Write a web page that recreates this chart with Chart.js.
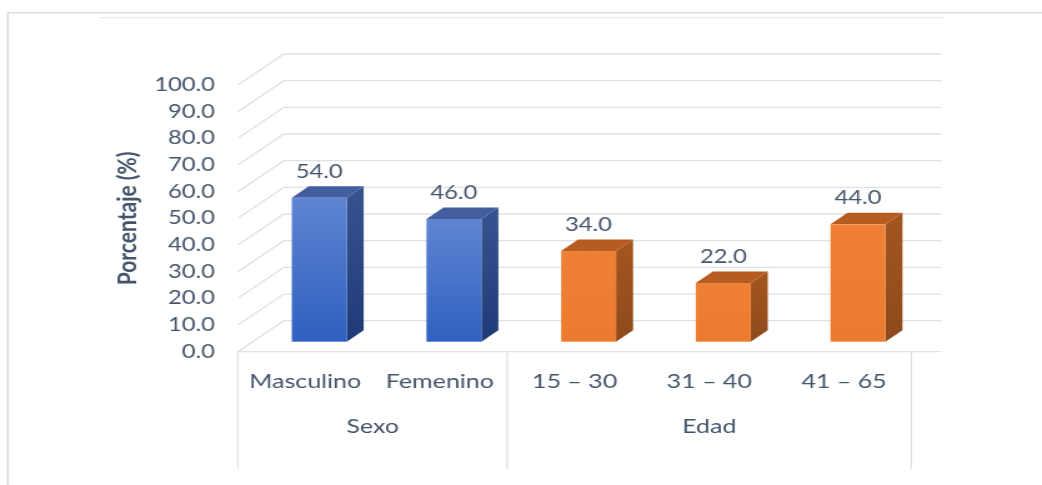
<!DOCTYPE html>
<html>
<head>
<meta charset="utf-8">
<script src="https://cdn.jsdelivr.net/npm/chart.js@4"></script>
<style>
  html, body { margin: 0; padding: 0; background: #ffffff; }
  /* drawn narrow, shown wide: the chart is stretched horizontally */
  #porcentaje-chart { display: block; width: 1042px !important; height: 485px !important; }
</style>
</head>
<body>
<canvas id="porcentaje-chart" width="834" height="485" style="width:1042px;height:485px"></canvas>
<script>
const categories = ["Masculino", "Femenino", "15 – 30", "31 – 40", "41 – 65"];
const percentages = [54.0, 46.0, 34.0, 22.0, 44.0];
const groups = ["Sexo", "Edad"];
const groupSizes = [2, 3];
const yTickLabels = ["0.0", "10.0", "20.0", "30.0", "40.0", "50.0", "60.0", "70.0", "80.0", "90.0", "100.0"];

const TEXT = "#44546a";
const GRID = "#dde1e8";
const FONT = "Lato";

// colours of each group: front (top, bottom), side (top, bottom), cap
const palette = [
  { front: ["#5f85d2", "#2f61c0"], side: ["#35528f", "#1f3b77"], cap: "#425e9e" },
  { front: ["#ef8035", "#ec7b2f"], side: ["#a1551f", "#8e4a1b"], cap: "#b75c21" },
];

// oblique projection offsets
const WALL_DX = 36.8, WALL_DY = -31;
const BAR_DX = 11.2, BAR_DY = -10;
const SIDE_DX = 13.6, SIDE_DY = -11.5;
const FLOOR_RIGHT = 753.4;

const groupOf = (i) => {
  let n = 0;
  for (let g = 0; g < groupSizes.length; g++) {
    n += groupSizes[g];
    if (i < n) return g;
  }
  return groupSizes.length - 1;
};

const box3d = {
  id: "box3d",
  beforeDraw(chart) {
    const { ctx } = chart;
    ctx.save();
    ctx.strokeStyle = "#d9dde4";
    ctx.lineWidth = 1.5;
    ctx.beginPath();
    ctx.moveTo(6.2, 485);
    ctx.lineTo(6.2, 12.7);
    ctx.lineTo(chart.width, 12.7);
    ctx.stroke();
    ctx.strokeStyle = "#e6e9ee";
    ctx.lineWidth = 1.2;
    ctx.beginPath();
    ctx.moveTo(80, 17.7);
    ctx.lineTo(756, 17.7);
    ctx.stroke();
    ctx.restore();
  },
  beforeDatasetsDraw(chart) {
    const { ctx, chartArea, scales } = chart;
    const y = scales.y;
    ctx.save();

    // side wall + back wall gridlines
    ctx.strokeStyle = GRID;
    ctx.lineWidth = 1.3;
    y.ticks.forEach((t) => {
      const py = y.getPixelForValue(t.value);
      ctx.beginPath();
      ctx.moveTo(chartArea.left, py);
      ctx.lineTo(chartArea.left + WALL_DX, py + WALL_DY);
      ctx.lineTo(FLOOR_RIGHT, py + WALL_DY);
      ctx.stroke();
    });
    // front edge of the floor
    ctx.beginPath();
    ctx.moveTo(chartArea.left, chartArea.bottom);
    ctx.lineTo(FLOOR_RIGHT, chartArea.bottom);
    ctx.stroke();

    // boxes
    const meta = chart.getDatasetMeta(0);
    meta.data.forEach((bar, i) => {
      const p = bar.getProps(["x", "y", "base", "width"], true);
      const l = p.x - p.width / 2 + BAR_DX;
      const r = l + p.width;
      const t = p.y + BAR_DY;
      const b = p.base + BAR_DY;
      const c = palette[groupOf(i)];

      const sg = ctx.createLinearGradient(0, t, 0, b);
      sg.addColorStop(0, c.side[0]);
      sg.addColorStop(1, c.side[1]);
      ctx.fillStyle = sg;
      ctx.beginPath();
      ctx.moveTo(r, t);
      ctx.lineTo(r + SIDE_DX, t + SIDE_DY);
      ctx.lineTo(r + SIDE_DX, b + SIDE_DY);
      ctx.lineTo(r, b);
      ctx.closePath();
      ctx.fill();

      ctx.fillStyle = c.cap;
      ctx.beginPath();
      ctx.moveTo(l, t);
      ctx.lineTo(r, t);
      ctx.lineTo(r + SIDE_DX, t + SIDE_DY);
      ctx.lineTo(l + SIDE_DX, t + SIDE_DY);
      ctx.closePath();
      ctx.fill();

      const fg = ctx.createLinearGradient(0, t, 0, b);
      fg.addColorStop(0, c.front[0]);
      fg.addColorStop(1, c.front[1]);
      ctx.fillStyle = fg;
      ctx.fillRect(l, t, p.width, b - t);
    });
    ctx.restore();
    return false;
  },
  afterDraw(chart) {
    const { ctx, chartArea, scales } = chart;
    const x = scales.x;
    ctx.save();

    // value labels above each box
    ctx.fillStyle = TEXT;
    ctx.font = `19px ${FONT}`;
    ctx.textAlign = "center";
    ctx.textBaseline = "middle";
    chart.getDatasetMeta(0).data.forEach((bar, i) => {
      const p = bar.getProps(["x", "y"], true);
      ctx.fillText(percentages[i].toFixed(1), p.x + BAR_DX, p.y + BAR_DY - 26);
    });

    // group separators and group names
    const slot = (x.right - x.left) / categories.length;
    ctx.strokeStyle = GRID;
    ctx.lineWidth = 1.3;
    ctx.font = `20px ${FONT}`;
    let start = 0;
    const edges = [x.left];
    groups.forEach((g, gi) => {
      const end = start + groupSizes[gi];
      const x0 = x.left + start * slot;
      const x1 = x.left + end * slot;
      edges.push(x1);
      ctx.fillText(g, (x0 + x1) / 2, 427);
      start = end;
    });
    edges.forEach((ex) => {
      ctx.beginPath();
      ctx.moveTo(ex, chartArea.bottom);
      ctx.lineTo(ex, 469);
      ctx.stroke();
    });
    ctx.restore();
  },
};

new Chart(document.getElementById("porcentaje-chart"), {
  type: "bar",
  data: {
    labels: categories,
    datasets: [
      {
        label: "Porcentaje",
        data: percentages,
        backgroundColor: categories.map((_, i) => palette[groupOf(i)].front[1]),
        categoryPercentage: 1,
        barPercentage: 0.408,
      },
    ],
  },
  options: {
    responsive: false,
    devicePixelRatio: 1,
    animation: false,
    layout: { padding: { left: 87, top: 85, right: 104.6, bottom: 0 } },
    plugins: {
      legend: { display: false },
      tooltip: { enabled: false },
    },
    scales: {
      x: {
        grid: { display: false, drawTicks: false },
        border: { display: false },
        ticks: { color: TEXT, font: { family: FONT, size: 20 }, padding: 18, maxRotation: 0 },
        afterFit: (scale) => { scale.height = 133.3; },
      },
      y: {
        min: 0,
        max: 100,
        grid: { display: false, drawTicks: false },
        border: { display: false },
        ticks: {
          stepSize: 10,
          color: TEXT,
          font: { family: FONT, size: 19 },
          padding: 18.4,
          callback: (value, index) => yTickLabels[index],
        },
        title: {
          display: true,
          text: "Porcentaje (%)",
          color: TEXT,
          font: { family: FONT, size: 21, weight: "bold" },
          padding: { top: 3, bottom: 0 },
        },
        afterFit: (scale) => { scale.width = 103.4; },
      },
    },
  },
  plugins: [box3d],
});
</script>
</body>
</html>
